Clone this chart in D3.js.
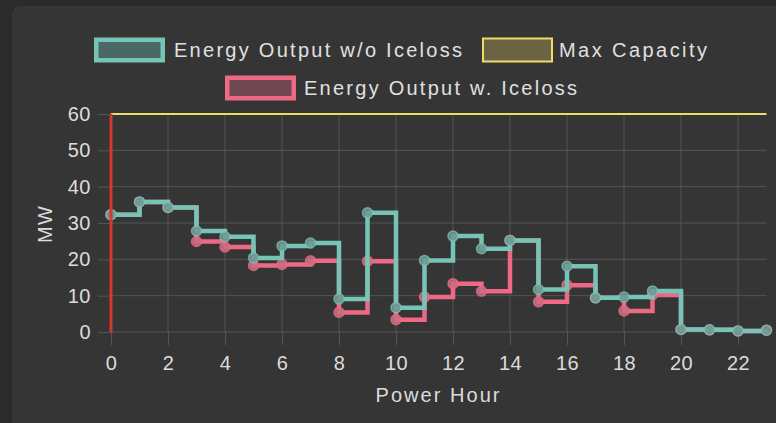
<!DOCTYPE html>
<html>
<head>
<meta charset="utf-8">
<script src="https://cdn.jsdelivr.net/npm/d3@7"></script>
<style>
  html, body { margin: 0; padding: 0; background: #2b2b2b; }
  svg { display: block; font-family: "Liberation Sans", Arial, sans-serif; }
</style>
</head>
<body>
<svg id="chart" width="776" height="423"></svg>
<script>
const hours = [0,1,2,3,4,5,6,7,8,9,10,11,12,13,14,15,16,17,18,19,20,21,22,23];
const outputWithoutIceloss = [32.3, 35.8, 34.3, 27.8, 26.2, 20.4, 23.7, 24.5, 9.1, 32.8, 6.7, 19.7, 26.4, 22.9, 25.2, 11.7, 18.1, 9.4, 9.6, 11.3, 0.7, 0.6, 0.3, 0.5];
const outputWithIceloss = [32.3, 35.8, 34.3, 24.9, 23.4, 18.3, 18.6, 19.6, 5.4, 19.5, 3.4, 9.6, 13.3, 11.2, 25.2, 8.3, 12.9, 9.4, 5.8, 10.2, 0.7, 0.6, 0.3, 0.5];
const maxCapacity = [60,60,60,60,60,60,60,60,60,60,60,60,60,60,60,60,60,60,60,60,60,60,60,60];
const currentHour = 0;
const yTicks = [0, 10, 20, 30, 40, 50, 60];
const xTicks = [0, 2, 4, 6, 8, 10, 12, 14, 16, 18, 20, 22];
const seriesNames = ["Energy Output w/o Iceloss", "Max Capacity", "Energy Output w. Iceloss"];

const svg = d3.select("#chart");
svg.append("rect").attr("x", 0).attr("y", 0).attr("width", 776).attr("height", 423).attr("fill", "#2b2b2b");
svg.append("rect").attr("x", 13).attr("y", 7).attr("width", 800).attr("height", 450).attr("rx", 7)
  .attr("fill", "#353535").attr("stroke", "#3c3c3c").attr("stroke-width", 1);

const x = d3.scaleLinear().domain([0, 23]).range([111, 766.5]);
const y = d3.scaleLinear().domain([0, 60]).range([332, 114]);

const gridColor = "#555555";
const textColor = "#dcdcdc";

// horizontal grid + y ticks
const yAxis = d3.axisLeft(y).tickValues(yTicks).tickSize(13).tickPadding(7);
const gy = svg.append("g").attr("transform", "translate(111,0)").call(yAxis);
gy.select(".domain").remove();
gy.selectAll(".tick line").attr("stroke", gridColor);
gy.selectAll(".tick text").attr("fill", textColor).attr("font-size", 20)
  .attr("font-family", "Liberation Sans, Arial, sans-serif").attr("letter-spacing", "0.5px");
svg.append("g").selectAll("line").data(yTicks).join("line")
  .attr("x1", 111).attr("x2", 766.5).attr("y1", d => y(d)).attr("y2", d => y(d))
  .attr("stroke", gridColor).attr("stroke-width", 1);

// vertical grid + x ticks
const xAxis = d3.axisBottom(x).tickValues(xTicks).tickSize(13).tickPadding(11);
const gx = svg.append("g").attr("transform", "translate(0,332)").call(xAxis);
gx.select(".domain").remove();
gx.selectAll(".tick line").attr("stroke", gridColor);
gx.selectAll(".tick text").attr("fill", textColor).attr("font-size", 20)
  .attr("font-family", "Liberation Sans, Arial, sans-serif").attr("letter-spacing", "0.5px");
svg.append("g").selectAll("line").data(xTicks).join("line")
  .attr("x1", d => x(d)).attr("x2", d => x(d)).attr("y1", 114).attr("y2", 332)
  .attr("stroke", gridColor).attr("stroke-width", 1);

// axis titles
svg.append("text").attr("x", 437.5).attr("y", 401.5).attr("text-anchor", "middle")
  .attr("fill", textColor).attr("font-size", 20).attr("textLength", 124).attr("lengthAdjust", "spacing")
  .text("Power Hour");
svg.append("text").attr("transform", "translate(52,224.5) rotate(-90)").attr("text-anchor", "middle")
  .attr("fill", textColor).attr("font-size", 20).attr("textLength", 37).attr("lengthAdjust", "spacing")
  .text("MW");

const teal = "#76c4b6", pink = "#ee6983", yellow = "#eedb6a";

// max capacity line
const line = d3.line().x((d, i) => x(hours[i])).y(d => y(d));
svg.append("path").attr("d", line(maxCapacity)).attr("fill", "none")
  .attr("stroke", yellow).attr("stroke-width", 2);

const stepLine = d3.line().x((d, i) => x(hours[i])).y(d => y(d)).curve(d3.curveStepAfter);

function drawSeries(values, color, pointFill) {
  svg.append("path").attr("d", stepLine(values)).attr("fill", "none")
    .attr("stroke", color).attr("stroke-width", 4.5).attr("stroke-linejoin", "miter");
  svg.append("g").selectAll("circle").data(values).join("circle")
    .attr("cx", (d, i) => x(hours[i])).attr("cy", d => y(d)).attr("r", 5)
    .attr("fill", pointFill).attr("stroke", color).attr("stroke-opacity", 0.75).attr("stroke-width", 1.5);
}
drawSeries(outputWithIceloss, pink, "rgba(200,110,128,0.85)");
drawSeries(outputWithoutIceloss, teal, "rgba(112,150,145,0.85)");

// current hour marker
svg.append("line").attr("x1", x(currentHour)).attr("x2", x(currentHour))
  .attr("y1", y(0)).attr("y2", y(60)).attr("stroke", "#d23b2c").attr("stroke-width", 3);

// legend
const legendItems = [
  {name: seriesNames[0], stroke: teal, fill: "#4a6864", bx: 94, by: 37.5, tx: 174, ty: 56.5, tl: 288},
  {name: seriesNames[1], stroke: yellow, fill: "#6b6442", bx: 482, by: 37.5, tx: 559, ty: 56.5, tl: 148},
  {name: seriesNames[2], stroke: pink, fill: "#6e4752", bx: 225, by: 75.5, tx: 304, ty: 94.5, tl: 273}
];
const lg = svg.append("g");
legendItems.forEach(it => {
  const sw = it.name === "Max Capacity" ? 2 : 4.5;
  lg.append("rect").attr("x", it.bx + sw / 2).attr("y", it.by + sw / 2)
    .attr("width", 71 - sw).attr("height", 25 - sw)
    .attr("fill", it.fill).attr("stroke", it.stroke).attr("stroke-width", sw);
  lg.append("text").attr("x", it.tx).attr("y", it.ty).attr("fill", "#e0e0e0")
    .attr("font-size", 20).attr("textLength", it.tl).attr("lengthAdjust", "spacing")
    .text(it.name);
});
</script>
</body>
</html>
